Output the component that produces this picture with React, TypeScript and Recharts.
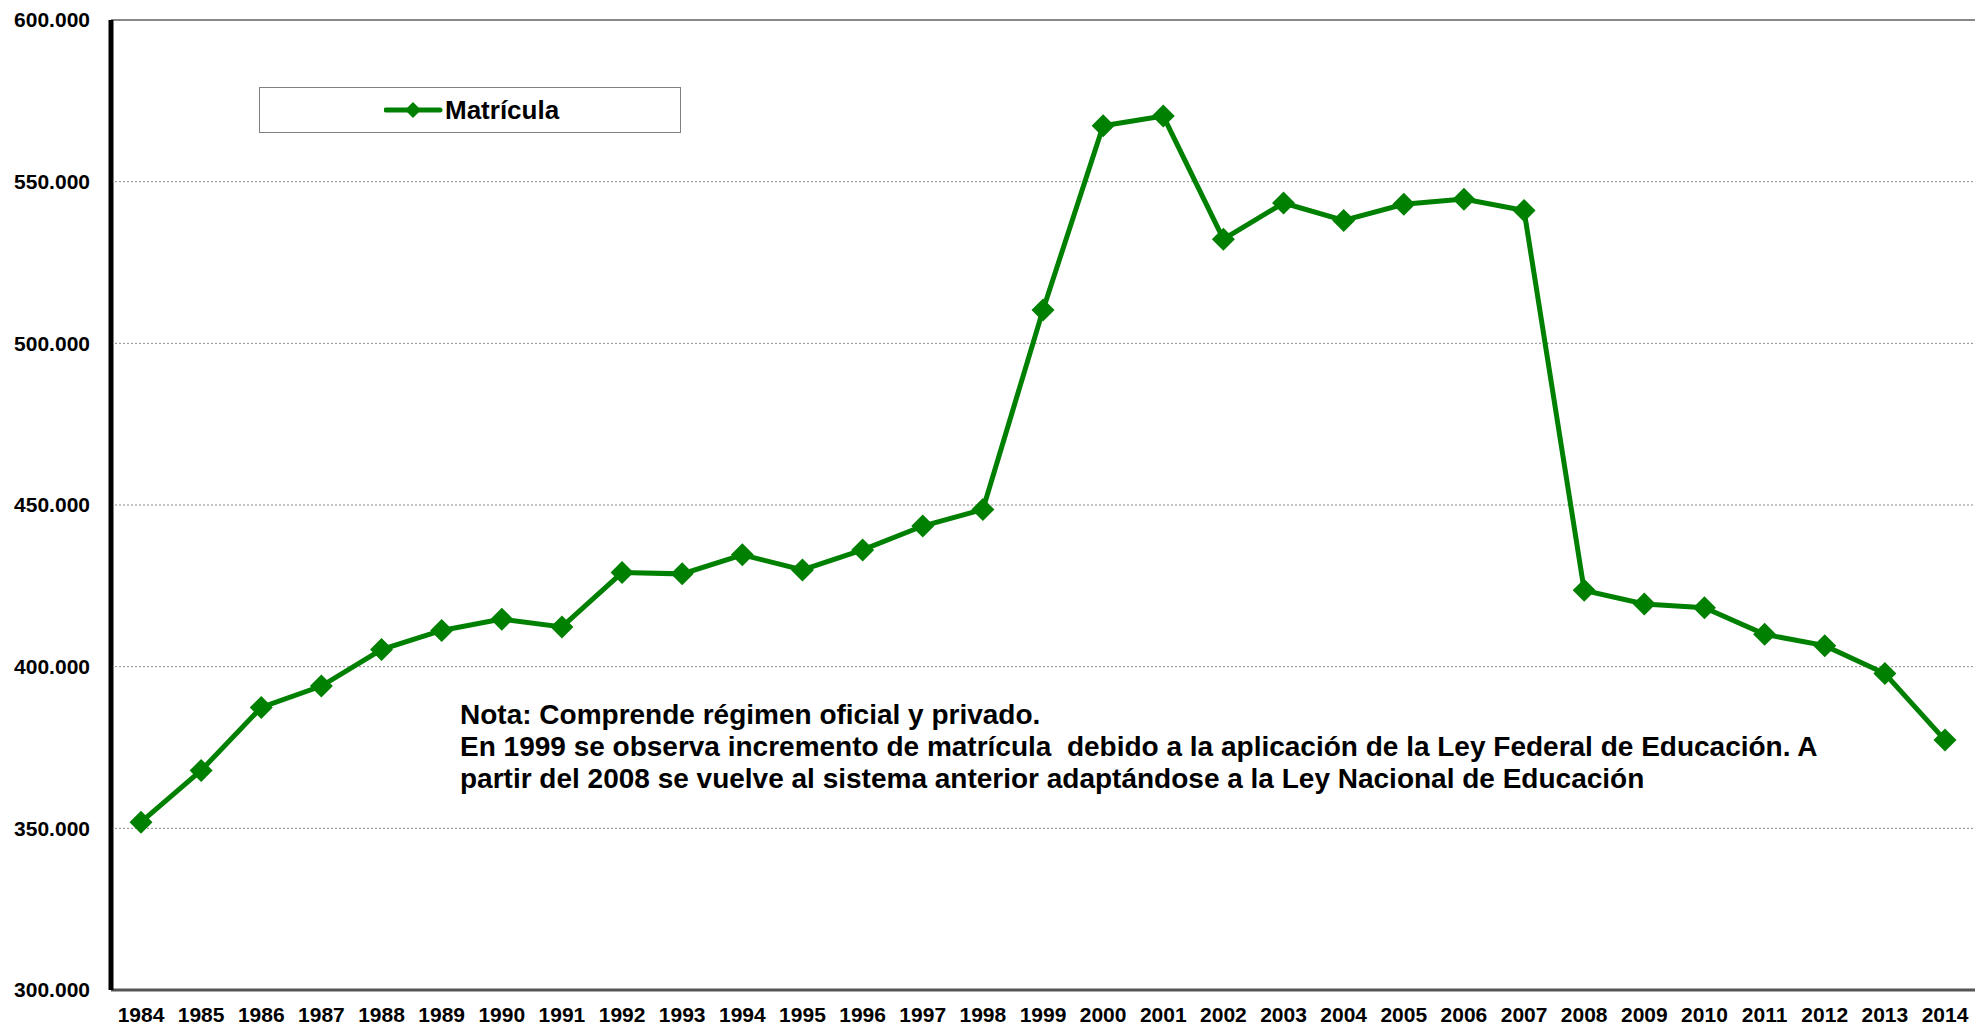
import { CartesianGrid, Line, LineChart, ReferenceLine, XAxis, YAxis } from "recharts";

const years = [
  "1984", "1985", "1986", "1987", "1988", "1989", "1990", "1991", "1992", "1993", "1994",
  "1995", "1996", "1997", "1998", "1999", "2000", "2001", "2002", "2003", "2004", "2005",
  "2006", "2007", "2008", "2009", "2010", "2011", "2012", "2013", "2014",
];

const matricula = [
  351900, 367900, 387400, 394000, 405300, 411200, 414700, 412300, 429100, 428700, 434600,
  429900, 436100, 443500, 448600, 510300, 567300, 570300, 532200, 543400, 538000, 543000,
  544600, 541100, 423600, 419400, 418200, 410000, 406500, 397900, 377300,
];

const yTicks = [300000, 350000, 400000, 450000, 500000, 550000, 600000];

const noteLines = [
  "Nota: Comprende régimen oficial y privado.",
  "En 1999 se observa incremento de matrícula  debido a la aplicación de la Ley Federal de Educación. A",
  "partir del 2008 se vuelve al sistema anterior adaptándose a la Ley Nacional de Educación",
];

const GREEN = "#008000";
const FONT = "'Liberation Sans', Arial, sans-serif";

const data = years.map((y, i) => ({ year: y, value: matricula[i] }));

const fmt = (v: number) => String(v).replace(/\B(?=(\d{3})+(?!\d))/g, ".");

function Diamond(props: any) {
  const { cx, cy } = props;
  if (cx == null || cy == null) return null;
  const r = 11.5;
  return (
    <path
      d={`M${cx},${cy - r} L${cx + r},${cy} L${cx},${cy + r} L${cx - r},${cy} Z`}
      fill={GREEN}
      stroke="none"
    />
  );
}

// legend box drawn by hand so it doesn't eat into the plot area
function LegendBox() {
  return (
    <div
      style={{
        position: "absolute",
        left: 259,
        top: 87,
        width: 422,
        height: 46,
        boxSizing: "border-box",
        border: "1px solid #808080",
        background: "#fff",
        fontFamily: FONT,
      }}
    >
      <svg width={60} height={20} style={{ position: "absolute", left: 124, top: 12 }}>
        <line x1={2} y1={10} x2={56} y2={10} stroke={GREEN} strokeWidth={5} strokeLinecap="round" />
        <path d="M29,2 L37,10 L29,18 L21,10 Z" fill={GREEN} />
      </svg>
      <span
        style={{
          position: "absolute",
          left: 185,
          top: 7,
          fontSize: 26,
          fontWeight: "bold",
          lineHeight: "30px",
          color: "#000",
        }}
      >
        Matrícula
      </span>
    </div>
  );
}

export default function App() {
  return (
    <div style={{ position: "absolute", left: 0, top: 0, width: 1975, height: 1028, background: "#fff" }}>
      <LineChart width={1975} height={1028} data={data} margin={{ top: 20, right: 0, bottom: 0, left: 0 }}>
        <CartesianGrid vertical={false} stroke="#8a8a8a" strokeDasharray="2 2" />
        <XAxis
          dataKey="year"
          padding={{ left: 30, right: 30 }}
          height={38}
          interval={0}
          tickLine={false}
          tickSize={0}
          tickMargin={17}
          axisLine={{ stroke: "#555", strokeWidth: 3 }}
          tick={{ fill: "#000", fontSize: 21, fontWeight: "bold", fontFamily: FONT }}
        />
        <YAxis
          width={111}
          domain={[300000, 600000]}
          ticks={yTicks}
          interval={0}
          allowDataOverflow
          tickLine={false}
          tickSize={0}
          tickMargin={21}
          tickFormatter={fmt}
          axisLine={{ stroke: "#000", strokeWidth: 5 }}
          tick={{ fill: "#000", fontSize: 21, fontWeight: "bold", fontFamily: FONT }}
        />
        <ReferenceLine y={600000} stroke="#888" strokeWidth={2} />
        <Line
          type="linear"
          dataKey="value"
          name="Matrícula"
          stroke={GREEN}
          strokeWidth={5}
          dot={<Diamond />}
          activeDot={false}
          isAnimationActive={false}
        />
      </LineChart>
      <LegendBox />
      <div
        style={{
          position: "absolute",
          left: 460,
          top: 699,
          fontFamily: FONT,
          fontSize: 28,
          fontWeight: "bold",
          lineHeight: "32px",
          color: "#000",
          whiteSpace: "pre",
        }}
      >
        {noteLines.map((l) => (
          <div key={l}>{l}</div>
        ))}
      </div>
    </div>
  );
}
